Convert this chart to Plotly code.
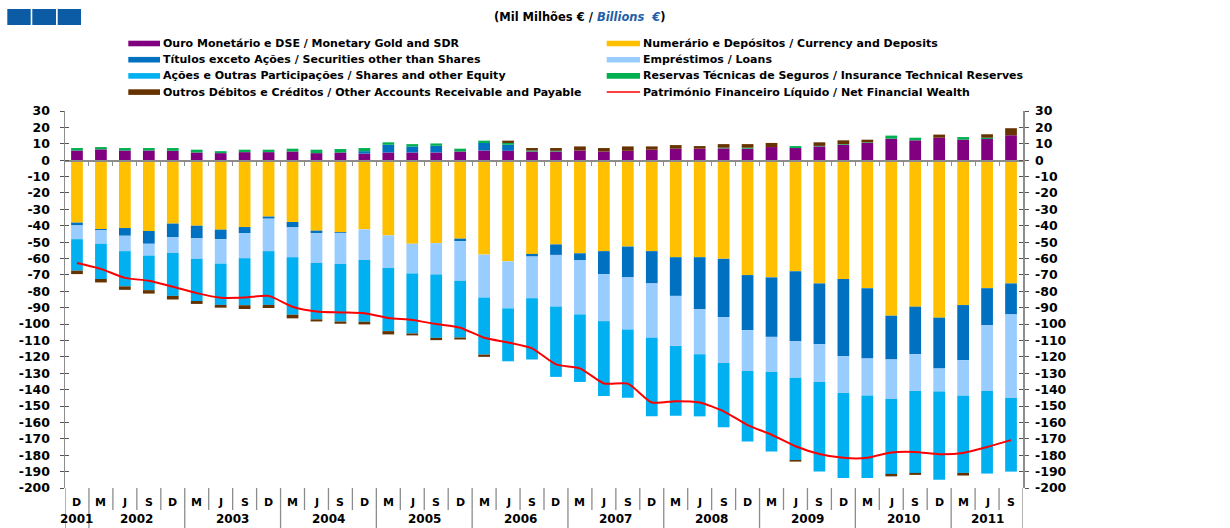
import plotly.graph_objects as go

# ---------------- data (Mil Milhões € / Billions €) ----------------
months = ["D"] + ["M", "J", "S", "D"] * 9 + ["M", "J", "S"]
years = ["2001", "2002", "2003", "2004", "2005", "2006", "2007", "2008", "2009", "2010", "2011"]
quarters_per_year = [1, 4, 4, 4, 4, 4, 4, 4, 4, 4, 3]

series_names = [
    "Ouro Monetário e DSE / Monetary Gold and SDR",
    "Numerário e Depósitos / Currency and Deposits",
    "Títulos exceto Ações / Securities other than Shares",
    "Empréstimos / Loans",
    "Ações e Outras Participações / Shares and other Equity",
    "Reservas Técnicas de Seguros / Insurance Technical Reserves",
    "Outros Débitos e Créditos / Other Accounts Receivable and Payable",
    "Património Financeiro Líquido / Net Financial Wealth",
]

gold = [5.9, 6.6, 5.9, 5.9, 5.7, 4.7, 4.3, 4.9, 4.9, 5.3, 4.3, 4.7, 4.0, 4.7, 4.7, 4.7, 5.3, 5.9, 5.7, 5.3,
        5.3, 5.9, 5.3, 5.7, 6.4, 7.0, 7.0, 7.2, 7.0, 8.0, 7.4, 8.4, 9.4, 10.5, 13.1, 12.1, 13.7, 12.5, 12.9, 15.2]
currency = [-38.1, -42.0, -41.4, -43.2, -38.7, -40.0, -42.4, -40.8, -34.4, -37.7, -43.0, -43.9, -42.2, -45.9,
            -51.0, -50.6, -47.9, -57.6, -61.7, -57.2, -51.4, -56.8, -55.5, -52.7, -55.5, -59.2, -59.2, -60.2,
            -70.1, -71.5, -67.8, -75.2, -72.5, -78.1, -94.9, -89.4, -96.1, -88.4, -78.1, -75.2]
securities = [-1.7, -0.8, -4.7, -7.8, -8.2, -7.7, -5.8, -3.7, -1.3, -3.3, -1.5, -0.5, 1.5, 4.7, 3.7, 4.1, -1.5,
              4.6, 3.7, -1.6, -6.4, -4.1, -14.0, -18.8, -19.7, -23.6, -31.8, -35.5, -33.6, -36.3, -42.6, -37.0,
              -47.1, -42.9, -26.7, -29.0, -31.0, -33.6, -22.5, -18.9]
loans = [-8.4, -8.2, -9.4, -7.2, -9.7, -12.5, -14.9, -15.3, -19.8, -18.2, -18.2, -18.9, -18.7, -19.9, -18.1,
         -19.1, -24.2, -26.2, -28.7, -25.4, -31.5, -33.2, -28.7, -31.8, -33.2, -30.5, -27.4, -28.0, -24.9, -21.4,
         -22.3, -23.1, -22.4, -22.5, -24.1, -22.4, -14.1, -21.7, -40.2, -51.0]
shares = [-19.2, -21.5, -21.5, -21.1, -26.2, -25.7, -25.2, -28.7, -32.8, -35.1, -34.4, -35.1, -37.7, -38.5,
          -36.6, -38.7, -34.6, -34.8, -32.3, -37.4, -42.9, -41.2, -45.7, -41.6, -47.9, -42.6, -37.9, -39.2,
          -43.0, -48.6, -50.2, -54.7, -51.9, -50.4, -45.7, -50.0, -53.7, -47.1, -50.4, -44.9]
insurance = [1.5, 1.4, 1.5, 1.5, 1.7, 1.7, 1.2, 1.5, 1.5, 1.7, 2.1, 2.1, 1.9, 1.5, 1.4, 1.4, 1.7, 1.4, 1.1, 0.6,
             0.4, 0.0, 0.0, 0.0, 0.0, 0.0, 0.0, 0.4, 0.6, 0.0, 1.2, 0.3, 0.4, 0.4, 1.9, 1.6, 0.0, 1.6, 0.8, 0.0]
other = [-2.1, -2.1, -2.1, -2.1, -2.2, -1.8, -1.7, -2.3, -1.9, -2.2, -1.3, -1.4, -1.6, -2.0, -1.2, -1.4, -1.2,
         -1.4, 1.4, 1.5, 1.7, 2.5, 2.1, 2.7, 2.0, 2.2, 1.6, 2.2, 2.2, 2.5, -1.0, 2.2, 2.3, 1.6, -1.5, -1.2, 1.9,
         -1.6, 2.1, 4.3]
net_wealth = [-62.7, -66.3, -71.8, -73.6, -77.2, -81.1, -83.9, -83.8, -82.8, -89.4, -92.3, -92.9, -93.4, -96.3,
              -97.5, -100.0, -102.2, -108.3, -111.2, -114.8, -124.6, -127.0, -136.2, -136.3, -147.8, -147.0,
              -147.8, -153.2, -161.6, -167.5, -174.5, -179.2, -181.6, -181.6, -178.3, -178.0, -179.4, -178.6,
              -175.0, -170.8]

ytick_vals = list(range(30, -201, -10))
ytick_text = [str(v) for v in ytick_vals]

colors = ["#800080", "#FFC000", "#0070C0", "#99CCFF", "#00B0F0", "#00B050", "#663300", "#FF0000"]
bar_series = [gold, currency, securities, loans, shares, insurance, other]

# ---------------- geometry ----------------
W, H = 1230, 528
ML, MR, MT, MB = 65, 207, 111, 40
PW, PH = W - ML - MR, H - MT - MB
FONT = "DejaVu Sans"
AXC = "#8C8C8C"


def px_x(px):
    return (px - ML) / PW


def px_y(py):
    return (H - MB - py) / PH


n = len(months)
xs = list(range(n))

fig = go.Figure()
for name, vals, col in zip(series_names[:7], bar_series, colors[:7]):
    fig.add_trace(go.Bar(x=xs, y=vals, name=name, width=0.49,
                         marker=dict(color=col, line=dict(width=0)), showlegend=False))
fig.add_trace(go.Scatter(x=xs, y=net_wealth, name=series_names[7], mode="lines",
                         line=dict(color=colors[7], width=2, shape="spline", smoothing=0.6),
                         showlegend=False))
# dummy traces for extra axes (right labels, crossing ticks)
for ax in ["y2", "y3", "y4"]:
    fig.add_trace(go.Scatter(x=[0], y=[None], yaxis=ax, showlegend=False, hoverinfo="skip"))

yrange = [-200, 30]
tickfont = dict(family=FONT, size=12.5, color="black", weight="bold")
common_y = dict(range=yrange, tickmode="array", tickvals=ytick_vals, showgrid=False, zeroline=False,
                fixedrange=True)

fig.update_layout(
    width=W, height=H, margin=dict(l=ML, r=MR, t=MT, b=MB),
    paper_bgcolor="white", plot_bgcolor="white",
    barmode="relative", bargap=0.5,
    xaxis=dict(range=[-0.5, n - 0.5], anchor="free", position=(0 - yrange[0]) / (yrange[1] - yrange[0]),
               showline=True, linecolor=AXC, linewidth=1.5, ticks="outside", ticklen=4, tickwidth=1,
               tickcolor=AXC, tickmode="array", tickvals=[i + 0.5 for i in range(n - 1)],
               showticklabels=False, showgrid=False, zeroline=False, fixedrange=True),
    yaxis=dict(**common_y, ticktext=ytick_text, side="left", anchor="x", showline=True, linecolor=AXC,
               linewidth=1.5, ticks="outside", ticklen=4, tickcolor="#555555", tickfont=tickfont,
               ticklabelstandoff=7),
    yaxis2=dict(**common_y, ticktext=ytick_text, side="right", overlaying="y", anchor="x", showline=True,
                linecolor=AXC, linewidth=1.5, ticks="outside", ticklen=4, tickcolor="#555555",
                tickfont=tickfont, ticklabelstandoff=4),
    yaxis3=dict(**common_y, side="left", overlaying="y", anchor="x", showline=False, ticks="inside",
                ticklen=4, tickcolor="#555555", showticklabels=False),
    yaxis4=dict(**common_y, side="right", overlaying="y", anchor="x", showline=False, ticks="inside",
                ticklen=4, tickcolor="#555555", showticklabels=False),
)

shapes = []
annotations = []

# category axis: separators and labels below the plot
year_idx = []
for yi, cnt in enumerate(quarters_per_year):
    year_idx += [yi] * cnt
y_short = px_y(510)
y_long = px_y(H)
for b in range(n + 1):
    xb = b - 0.5
    is_long = b == 0 or b == n or year_idx[b] != year_idx[b - 1]
    shapes.append(dict(type="line", xref="x", yref="paper", x0=xb, x1=xb, y0=0, y1=y_long if is_long else y_short,
                       line=dict(color=AXC, width=1.3)))
for i, m in enumerate(months):
    annotations.append(dict(x=i, y=px_y(502.5), xref="x", yref="paper", text=m, showarrow=False,
                            xanchor="center", yanchor="middle",
                            font=dict(family=FONT, size=11, color="black", weight="bold")))
start = 0
for yi, cnt in enumerate(quarters_per_year):
    annotations.append(dict(x=start + (cnt - 1) / 2, y=px_y(519), xref="x", yref="paper", text=years[yi],
                            showarrow=False, xanchor="center", yanchor="middle",
                            font=dict(family=FONT, size=12, color="black", weight="bold")))
    start += cnt

# legend (two columns, row-major order)
row_y = [43.5, 59.7, 75.9, 92.1]
col_x = [(128.3, 160.0, 161.0), (606.7, 640.0, 640.5)]
for k, name in enumerate(series_names):
    r, c = k // 2, k % 2
    x0, x1, xt = col_x[c]
    cy = row_y[r]
    if k < 7:
        shapes.append(dict(type="rect", xref="paper", yref="paper", x0=px_x(x0), x1=px_x(x1),
                           y0=px_y(cy + 2.8), y1=px_y(cy - 2.8), fillcolor=colors[k], line=dict(width=0)))
    else:
        shapes.append(dict(type="line", xref="paper", yref="paper", x0=px_x(x0), x1=px_x(x1),
                           y0=px_y(cy), y1=px_y(cy), line=dict(color=colors[k], width=1.5)))
    annotations.append(dict(x=px_x(xt), y=px_y(cy), xref="paper", yref="paper", text=name, showarrow=False,
                            xanchor="left", yanchor="middle",
                            font=dict(family=FONT, size=11, color="black", weight="bold")))

# title
annotations.append(dict(x=px_x(580), y=px_y(17), xref="paper", yref="paper", showarrow=False,
                        xanchor="center", yanchor="middle",
                        text="(Mil Milhões € / <i><span style='color:#1F5FA8'>Billions  €</span></i>)",
                        font=dict(family=FONT, size=11.5, color="black", weight="bold")))

# logo squares
for x0, x1 in [(7.3, 30.7), (32.3, 56.0), (57.7, 81.0)]:
    shapes.append(dict(type="rect", xref="paper", yref="paper", x0=px_x(x0), x1=px_x(x1),
                       y0=px_y(25), y1=px_y(9), fillcolor="#0B5CA5", line=dict(width=0)))

fig.update_layout(shapes=shapes, annotations=annotations)
fig.write_html(
    "out.html",
    config={"displayModeBar": False, "staticPlot": True},
    post_script="document.documentElement.style.margin='0';document.body.style.margin='0';"
                "document.body.style.overflow='hidden';",
)
